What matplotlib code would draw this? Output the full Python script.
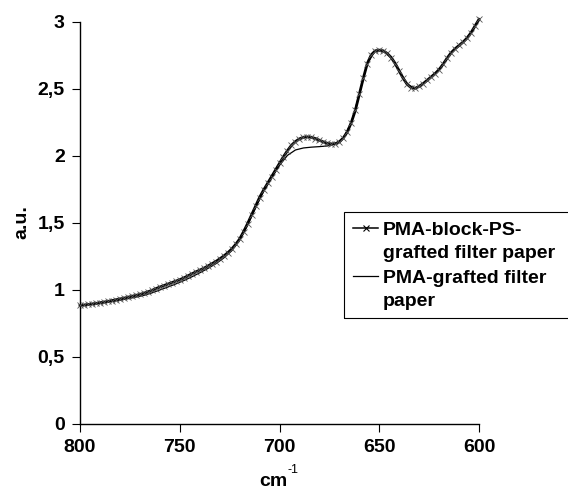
import numpy as np
import matplotlib
matplotlib.use("Agg")
import matplotlib.pyplot as plt
from matplotlib.lines import Line2D
from matplotlib.patches import Rectangle
from matplotlib.ticker import FuncFormatter

# PMA-block-PS-grafted filter paper, every 2 cm-1 from 800 down to 600
wn_block = np.arange(800, 599, -2)
au_block = [
    0.885, 0.888, 0.892, 0.896, 0.900, 0.905, 0.910, 0.915, 0.921, 0.927,
    0.933, 0.939, 0.946, 0.953, 0.960, 0.967, 0.976, 0.986, 0.997, 1.010,
    1.022, 1.033, 1.044, 1.055, 1.066, 1.077, 1.090, 1.105, 1.120, 1.135,
    1.148, 1.162, 1.178, 1.195, 1.212, 1.232, 1.253, 1.277, 1.305, 1.340,
    1.380, 1.435, 1.495, 1.560, 1.625, 1.690, 1.745, 1.795, 1.845, 1.895,
    1.945, 1.995, 2.040, 2.080, 2.108, 2.128, 2.140, 2.143, 2.140, 2.130,
    2.118, 2.105, 2.095, 2.090, 2.092, 2.105, 2.135, 2.180, 2.250, 2.340,
    2.460, 2.580, 2.690, 2.755, 2.785, 2.790, 2.785, 2.765, 2.735, 2.690,
    2.635, 2.580, 2.535, 2.510, 2.505, 2.520, 2.540, 2.565, 2.590, 2.615,
    2.645, 2.685, 2.730, 2.770, 2.800, 2.825, 2.850, 2.880, 2.920, 2.970,
    3.020,
]

# PMA-grafted filter paper, every 4 cm-1
wn_pma = np.arange(800, 599, -4)
au_pma = [
    0.885, 0.890, 0.897, 0.905, 0.914, 0.924, 0.935, 0.947, 0.960, 0.978,
    1.000, 1.022, 1.045, 1.070, 1.098, 1.128, 1.160, 1.195, 1.238, 1.292,
    1.370, 1.485, 1.615, 1.735, 1.835, 1.930, 2.005, 2.045, 2.060, 2.066,
    2.070, 2.075, 2.090, 2.135, 2.250, 2.460, 2.690, 2.785, 2.785, 2.735,
    2.635, 2.535, 2.505, 2.540, 2.590, 2.645, 2.730, 2.800, 2.850, 2.920,
    3.020,
]

labels = ["PMA-block-PS-\ngrafted filter paper", "PMA-grafted filter\npaper"]
x_ticks = [800, 750, 700, 650, 600]
y_ticks = [0, 0.5, 1, 1.5, 2, 2.5, 3]

plt.rcParams['font.family'] = ['Liberation Sans', 'DejaVu Sans']

W, H = 568, 499
fig = plt.figure(figsize=(W / 100, H / 100), dpi=100)
ax = fig.add_axes([80 / W, 1 - 424 / H, 399 / W, 402 / H])

ax.plot(wn_block, au_block, color='black', lw=2.0, marker='x', ms=4,
        mew=0.6, mec='#555555', clip_on=False, zorder=3)
ax.plot(wn_pma, au_pma, color='black', lw=0.9, clip_on=False, zorder=2)

ax.set_xlim(800, 600)
ax.set_ylim(0, 3)
ax.set_xticks(x_ticks)
ax.set_yticks(y_ticks)
ax.yaxis.set_major_formatter(FuncFormatter(lambda v, p: f"{v:g}".replace('.', ',')))

for s in ['top', 'right']:
    ax.spines[s].set_visible(False)
for s in ['left', 'bottom']:
    ax.spines[s].set_linewidth(1.0)

ax.tick_params(direction='out', length=6, width=0.8, labelsize=14, pad=5)
for t in ax.get_xticklabels() + ax.get_yticklabels():
    t.set_fontweight('bold')

# axis titles
fig.text(22 / W, 1 - 222 / H, 'a.u.', rotation=90, ha='center', va='center',
         fontsize=14, fontweight='bold')
fig.text(287 / W, 1 - 486 / H, 'cm', ha='right', va='baseline',
         fontsize=14, fontweight='bold')
fig.text(288 / W, 1 - 473 / H, '-1', ha='left', va='baseline', fontsize=9)

# legend box, running off the right edge like the original
fig.patches.append(Rectangle((344 / W, 1 - 318 / H), 300 / W, 106 / H,
                             transform=fig.transFigure, fill=False,
                             edgecolor='black', lw=0.8))
handles = [(labels[0], 228, True), (labels[1], 276, False)]
for lab, yh, with_marker in handles:
    fig.lines.append(Line2D([353 / W, 378 / W], [1 - yh / H] * 2,
                            transform=fig.transFigure, color='black',
                            lw=1.1 if with_marker else 0.9))
    if with_marker:
        fig.lines.append(Line2D([365.5 / W], [1 - yh / H], transform=fig.transFigure,
                                ls='none', marker='x', ms=4, mew=0.8, mec='black'))
    for i, line in enumerate(lab.split('\n')):
        fig.text(383 / W, 1 - (yh + 7 + 23.5 * i) / H, line, ha='left',
                 va='baseline', fontsize=14, fontweight='bold')

fig.savefig('out.png', dpi=100)
